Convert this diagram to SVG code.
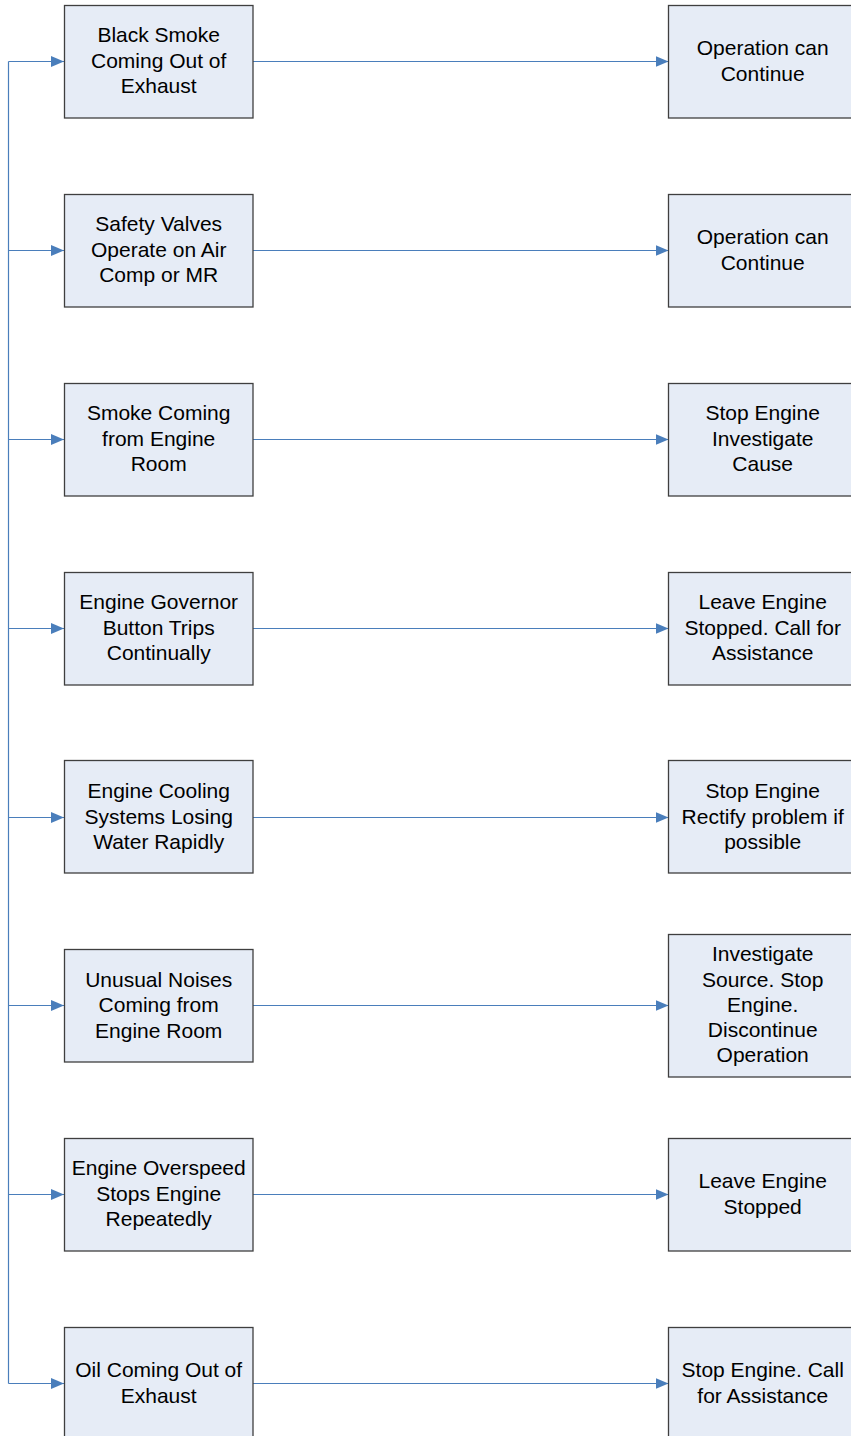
<svg xmlns="http://www.w3.org/2000/svg" width="851" height="1436" viewBox="0 0 851 1436">
  <style>
    .box { fill: #E6ECF6; stroke: #3F3F3F; stroke-width: 1.3; }
    .lbl { font-family: "Liberation Sans", Arial, sans-serif; font-size: 21px; fill: #000; text-anchor: middle; }
    .wire { fill: none; stroke: #4A7EBB; stroke-width: 1.2; }
  </style>
  <defs>
    <marker id="arrow" viewBox="0 0 13 11" refX="13" refY="5.5" markerWidth="13" markerHeight="11" markerUnits="userSpaceOnUse" orient="auto">
      <path d="M0,0 L13,5.5 L0,11 Z" fill="#4A7EBB"/>
    </marker>
  </defs>

  <rect width="851" height="1436" fill="#FFFFFF"/>

  <!-- connectors: trunk on the left, feeds into each symptom, symptom-to-action links -->
  <g id="connectors">
    <path class="wire" d="M8.5,61.5 V1383.5"/>
    <path class="wire" d="M8.5,61.5 H64" marker-end="url(#arrow)"/>
    <path class="wire" d="M8.5,250.5 H64" marker-end="url(#arrow)"/>
    <path class="wire" d="M8.5,439.5 H64" marker-end="url(#arrow)"/>
    <path class="wire" d="M8.5,628.5 H64" marker-end="url(#arrow)"/>
    <path class="wire" d="M8.5,817.5 H64" marker-end="url(#arrow)"/>
    <path class="wire" d="M8.5,1005.5 H64" marker-end="url(#arrow)"/>
    <path class="wire" d="M8.5,1194.5 H64" marker-end="url(#arrow)"/>
    <path class="wire" d="M8.5,1383.5 H64" marker-end="url(#arrow)"/>

    <path class="wire" d="M253,61.5 H668.5" marker-end="url(#arrow)"/>
    <path class="wire" d="M253,250.5 H668.5" marker-end="url(#arrow)"/>
    <path class="wire" d="M253,439.5 H668.5" marker-end="url(#arrow)"/>
    <path class="wire" d="M253,628.5 H668.5" marker-end="url(#arrow)"/>
    <path class="wire" d="M253,817.5 H668.5" marker-end="url(#arrow)"/>
    <path class="wire" d="M253,1005.5 H668.5" marker-end="url(#arrow)"/>
    <path class="wire" d="M253,1194.5 H668.5" marker-end="url(#arrow)"/>
    <path class="wire" d="M253,1383.5 H668.5" marker-end="url(#arrow)"/>
  </g>

  <!-- symptoms -->
  <g id="symptom-black-smoke">
    <rect class="box" x="64.5" y="5.5" width="188.5" height="112.5"/>
    <text class="lbl" x="158.7"><tspan x="158.7" y="42">Black Smoke</tspan><tspan x="158.7" y="68">Coming Out of</tspan><tspan x="158.7" y="93">Exhaust</tspan></text>
  </g>
  <g id="symptom-safety-valves">
    <rect class="box" x="64.5" y="194.5" width="188.5" height="112.5"/>
    <text class="lbl" x="158.7"><tspan x="158.7" y="231">Safety Valves</tspan><tspan x="158.7" y="257">Operate on Air</tspan><tspan x="158.7" y="282">Comp or MR</tspan></text>
  </g>
  <g id="symptom-smoke-engine-room">
    <rect class="box" x="64.5" y="383.5" width="188.5" height="112.5"/>
    <text class="lbl" x="158.7"><tspan x="158.7" y="420">Smoke Coming</tspan><tspan x="158.7" y="446">from Engine</tspan><tspan x="158.7" y="471">Room</tspan></text>
  </g>
  <g id="symptom-governor-trips">
    <rect class="box" x="64.5" y="572.5" width="188.5" height="112.5"/>
    <text class="lbl" x="158.7"><tspan x="158.7" y="609">Engine Governor</tspan><tspan x="158.7" y="635">Button Trips</tspan><tspan x="158.7" y="660">Continually</tspan></text>
  </g>
  <g id="symptom-cooling-loss">
    <rect class="box" x="64.5" y="760.5" width="188.5" height="112.5"/>
    <text class="lbl" x="158.7"><tspan x="158.7" y="798">Engine Cooling</tspan><tspan x="158.7" y="824">Systems Losing</tspan><tspan x="158.7" y="849">Water Rapidly</tspan></text>
  </g>
  <g id="symptom-unusual-noises">
    <rect class="box" x="64.5" y="949.5" width="188.5" height="112.5"/>
    <text class="lbl" x="158.7"><tspan x="158.7" y="987">Unusual Noises</tspan><tspan x="158.7" y="1012">Coming from</tspan><tspan x="158.7" y="1038">Engine Room</tspan></text>
  </g>
  <g id="symptom-overspeed">
    <rect class="box" x="64.5" y="1138.5" width="188.5" height="112.5"/>
    <text class="lbl" x="158.7"><tspan x="158.7" y="1175">Engine Overspeed</tspan><tspan x="158.7" y="1201">Stops Engine</tspan><tspan x="158.7" y="1226">Repeatedly</tspan></text>
  </g>
  <g id="symptom-oil-exhaust">
    <rect class="box" x="64.5" y="1327.5" width="188.5" height="112.5"/>
    <text class="lbl" x="158.7"><tspan x="158.7" y="1377">Oil Coming Out of</tspan><tspan x="158.7" y="1403">Exhaust</tspan></text>
  </g>

  <!-- actions -->
  <g id="action-1">
    <rect class="box" x="668.5" y="5.5" width="188.5" height="112.5"/>
    <text class="lbl" x="762.7"><tspan x="762.7" y="55">Operation can</tspan><tspan x="762.7" y="81">Continue</tspan></text>
  </g>
  <g id="action-2">
    <rect class="box" x="668.5" y="194.5" width="188.5" height="112.5"/>
    <text class="lbl" x="762.7"><tspan x="762.7" y="244">Operation can</tspan><tspan x="762.7" y="270">Continue</tspan></text>
  </g>
  <g id="action-3">
    <rect class="box" x="668.5" y="383.5" width="188.5" height="112.5"/>
    <text class="lbl" x="762.7"><tspan x="762.7" y="420">Stop Engine</tspan><tspan x="762.7" y="446">Investigate</tspan><tspan x="762.7" y="471">Cause</tspan></text>
  </g>
  <g id="action-4">
    <rect class="box" x="668.5" y="572.5" width="188.5" height="112.5"/>
    <text class="lbl" x="762.7"><tspan x="762.7" y="609">Leave Engine</tspan><tspan x="762.7" y="635">Stopped. Call for</tspan><tspan x="762.7" y="660">Assistance</tspan></text>
  </g>
  <g id="action-5">
    <rect class="box" x="668.5" y="760.5" width="188.5" height="112.5"/>
    <text class="lbl" x="762.7"><tspan x="762.7" y="798">Stop Engine</tspan><tspan x="762.7" y="824">Rectify problem if</tspan><tspan x="762.7" y="849">possible</tspan></text>
  </g>
  <g id="action-6">
    <rect class="box" x="668.5" y="934.5" width="188.5" height="142.5"/>
    <text class="lbl" x="762.7"><tspan x="762.7" y="961">Investigate</tspan><tspan x="762.7" y="987">Source. Stop</tspan><tspan x="762.7" y="1012">Engine.</tspan><tspan x="762.7" y="1037">Discontinue</tspan><tspan x="762.7" y="1062">Operation</tspan></text>
  </g>
  <g id="action-7">
    <rect class="box" x="668.5" y="1138.5" width="188.5" height="112.5"/>
    <text class="lbl" x="762.7"><tspan x="762.7" y="1188">Leave Engine</tspan><tspan x="762.7" y="1214">Stopped</tspan></text>
  </g>
  <g id="action-8">
    <rect class="box" x="668.5" y="1327.5" width="188.5" height="112.5"/>
    <text class="lbl" x="762.7"><tspan x="762.7" y="1377">Stop Engine. Call</tspan><tspan x="762.7" y="1403">for Assistance</tspan></text>
  </g>
</svg>
